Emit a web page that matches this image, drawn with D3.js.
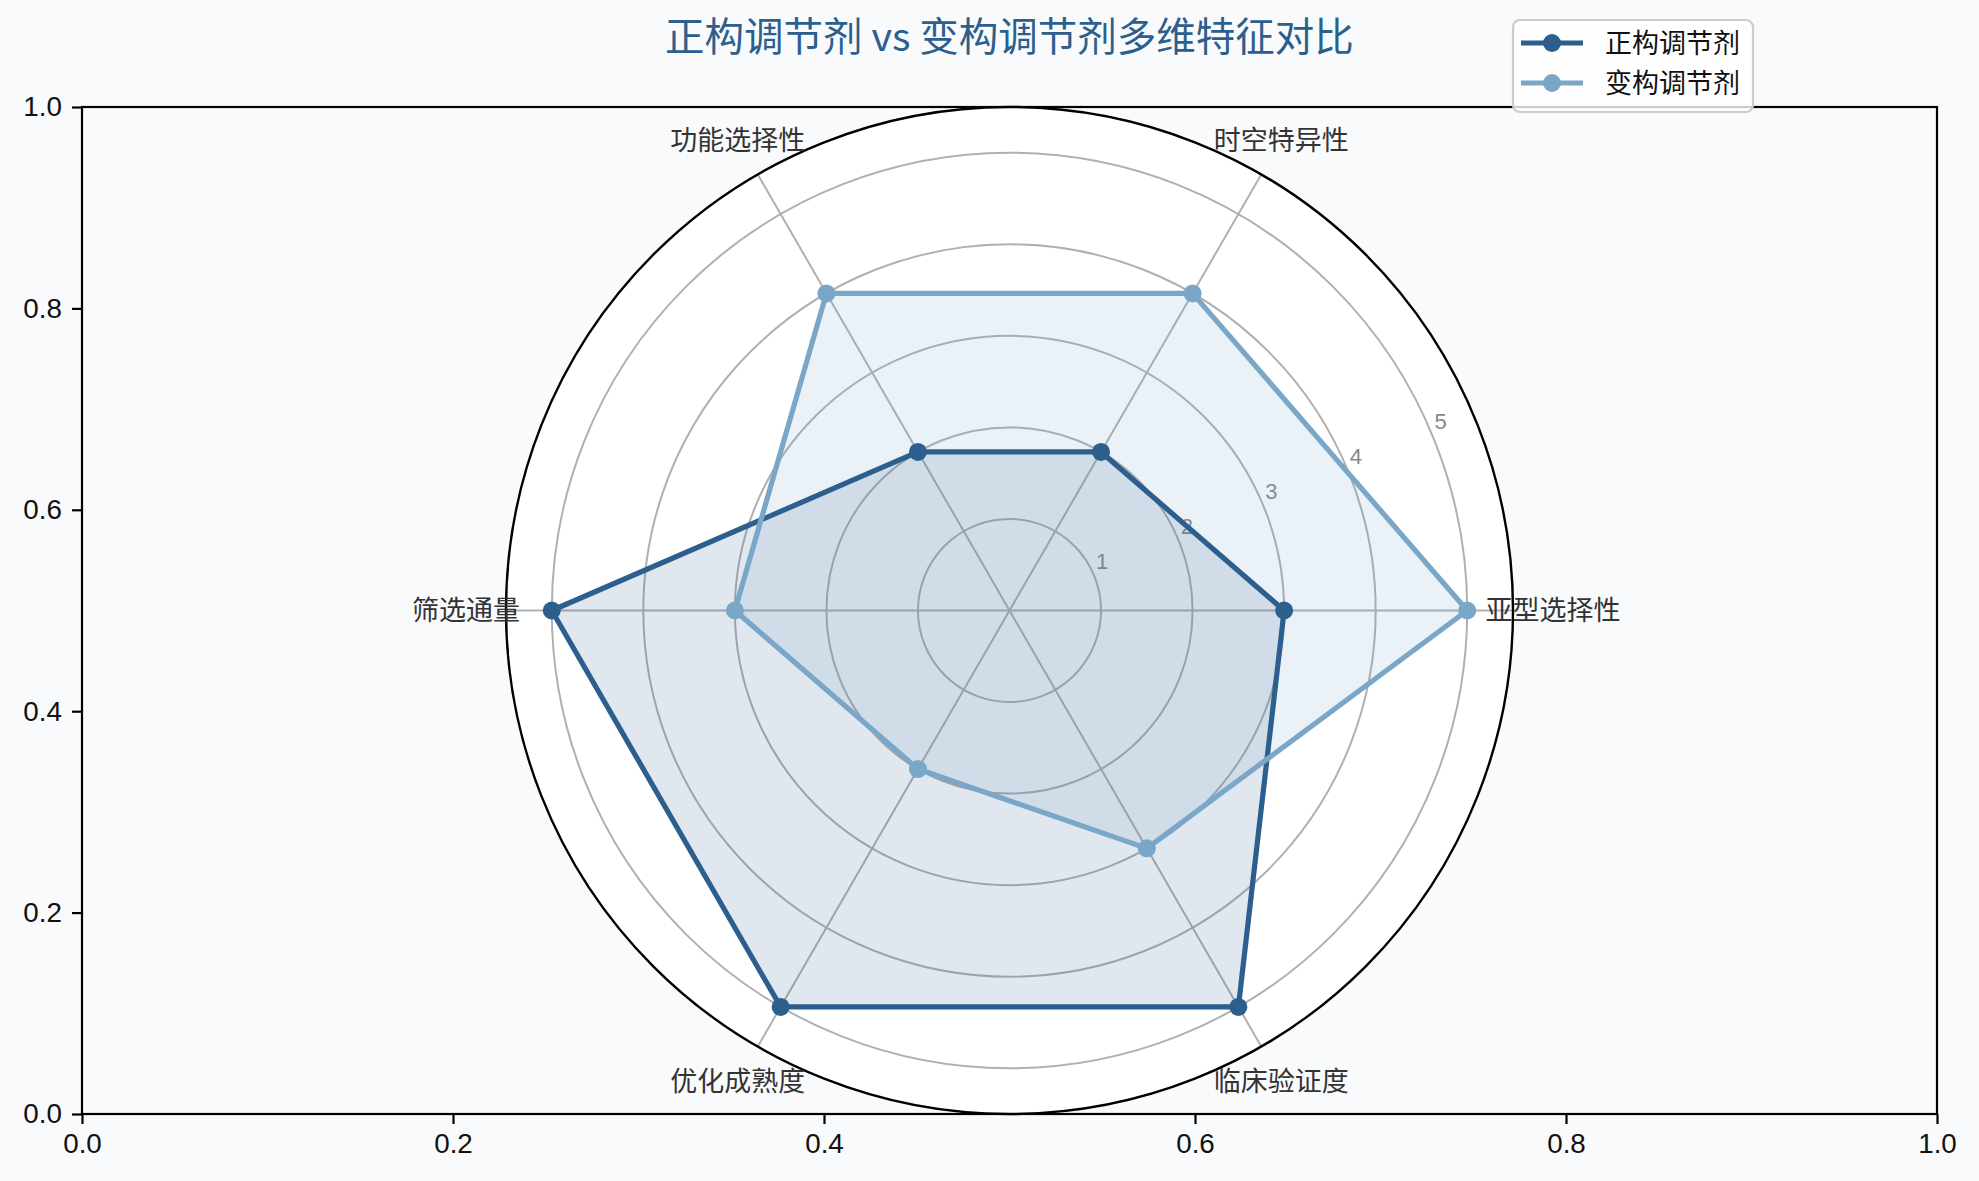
<!DOCTYPE html>
<html lang="zh">
<head>
<meta charset="UTF-8">
<title>正构调节剂 vs 变构调节剂多维特征对比</title>
<script src="https://d3js.org/d3.v7.min.js"></script>
<style>
  html, body { margin: 0; padding: 0; background: #f8fafc; }
  svg { display: block; font-family: "Liberation Sans", "Noto Sans CJK SC", sans-serif; }
  .tick text { font-size: 27.8px; fill: #111; }
  .tick line { stroke: #000; stroke-width: 2.2px; }
  .cat-label { font-family: "Noto Sans CJK SC", sans-serif; font-size: 27px; fill: #333; }
  .r-label { font-size: 22px; fill: #888; }
  .legend text { font-family: "Noto Sans CJK SC", sans-serif; font-size: 27px; fill: #111; }
</style>
</head>
<body>
<svg id="chart" width="1979" height="1181"></svg>
<script>
  // data
  const categories = ["亚型选择性", "时空特异性", "功能选择性", "筛选通量", "优化成熟度", "临床验证度"];
  const orthoValues = [3, 2, 2, 5, 5, 5];
  const alloValues = [5, 4, 4, 3, 2, 3];
  const seriesNames = ["正构调节剂", "变构调节剂"];
  const seriesColors = ["#2c5f8d", "#7aa6c8"];
  const radialTicks = [1, 2, 3, 4, 5];
  const cartTicks = [0, 0.2, 0.4, 0.6, 0.8, 1.0];

  const W = 1979, H = 1181;
  const margin = {top: 107, right: 42, bottom: 67, left: 82};
  const iw = W - margin.left - margin.right;
  const ih = H - margin.top - margin.bottom;

  const svg = d3.select("#chart");
  svg.append("rect").attr("width", W).attr("height", H).attr("fill", "#f8fafc");

  // background cartesian axes (0..1)
  const x = d3.scaleLinear().domain([0, 1]).range([0, iw]);
  const y = d3.scaleLinear().domain([0, 1]).range([ih, 0]);
  const g = svg.append("g").attr("transform", `translate(${margin.left},${margin.top})`);

  g.append("g")
    .attr("transform", `translate(0,${ih})`)
    .call(d3.axisBottom(x).tickValues(cartTicks).tickFormat(d3.format(".1f")).tickSize(10).tickPadding(9).tickSizeOuter(0))
    .call(a => a.select(".domain").remove());
  g.append("g")
    .call(d3.axisLeft(y).tickValues(cartTicks).tickFormat(d3.format(".1f")).tickSize(10).tickPadding(10).tickSizeOuter(0))
    .call(a => a.select(".domain").remove());
  g.selectAll(".tick text").attr("font-family", null);

  g.append("rect")
    .attr("width", iw).attr("height", ih)
    .attr("fill", "none").attr("stroke", "#000").attr("stroke-width", 2.2);

  // polar axes
  const R = ih / 2;
  const cx = margin.left + iw / 2, cy = margin.top + ih / 2;
  const r = d3.scaleLinear().domain([0, 5.5]).range([0, R]);
  const step = 2 * Math.PI / categories.length;
  // math angle (ccw from east) -> d3 radial angle (cw from north)
  const ang = i => Math.PI / 2 - i * step;

  const p = svg.append("g").attr("transform", `translate(${cx},${cy})`);
  p.append("circle").attr("r", R).attr("fill", "#fff");

  p.selectAll(".ring").data(radialTicks).join("circle")
    .attr("r", d => r(d))
    .attr("fill", "none").attr("stroke", "#b0b0b0").attr("stroke-width", 2);

  p.selectAll(".spoke").data(categories).join("line")
    .attr("x1", 0).attr("y1", 0)
    .attr("x2", (d, i) => R * Math.sin(ang(i)))
    .attr("y2", (d, i) => -R * Math.cos(ang(i)))
    .attr("stroke", "#b0b0b0").attr("stroke-width", 2);

  // radial labels at 22.5 deg
  const rlAng = 22.5 * Math.PI / 180;
  p.selectAll(".r-label").data(radialTicks).join("text")
    .attr("class", "r-label")
    .attr("x", d => r(d) * Math.cos(rlAng) + 2)
    .attr("y", d => -r(d) * Math.sin(rlAng) - 6)
    .text(d => d);

  const series = [orthoValues, alloValues];
  const radial = d3.lineRadial()
    .angle((d, i) => ang(i))
    .radius(d => r(d))
    .curve(d3.curveLinearClosed);

  series.forEach((vals, k) => {
    p.append("path").attr("d", radial(vals))
      .attr("fill", seriesColors[k]).attr("fill-opacity", 0.15).attr("stroke", "none");
  });
  series.forEach((vals, k) => {
    p.append("path").attr("d", radial(vals))
      .attr("fill", "none").attr("stroke", seriesColors[k])
      .attr("stroke-width", 5.2).attr("stroke-linejoin", "round");
    p.selectAll(null).data(vals).join("circle")
      .attr("cx", (d, i) => r(d) * Math.sin(ang(i)))
      .attr("cy", (d, i) => -r(d) * Math.cos(ang(i)))
      .attr("r", 9)
      .attr("fill", seriesColors[k]);
  });

  p.append("circle").attr("r", R).attr("fill", "none").attr("stroke", "#000").attr("stroke-width", 2.4);

  const labelR = R + 40;
  p.selectAll(".cat-label").data(categories).join("text")
    .attr("class", "cat-label")
    .attr("x", (d, i) => labelR * Math.sin(ang(i)))
    .attr("y", (d, i) => -labelR * Math.cos(ang(i)))
    .attr("text-anchor", "middle")
    .attr("dy", "0.36em")
    .text(d => d);

  // title
  svg.append("text")
    .attr("x", cx).attr("y", 51)
    .attr("text-anchor", "middle")
    .attr("font-family", "Noto Sans CJK SC, sans-serif")
    .attr("font-size", 39.5)
    .attr("fill", "#2c5f8d")
    .text("正构调节剂 vs 变构调节剂多维特征对比");

  // legend
  const lg = svg.append("g").attr("class", "legend").attr("transform", "translate(1513,20)");
  lg.append("rect").attr("width", 240).attr("height", 92).attr("rx", 7)
    .attr("fill", "#fff").attr("fill-opacity", 0.8)
    .attr("stroke", "#cccccc").attr("stroke-width", 2.2);
  seriesNames.forEach((name, k) => {
    const yy = 23 + k * 40;
    lg.append("line").attr("x1", 8).attr("x2", 70).attr("y1", yy).attr("y2", yy)
      .attr("stroke", seriesColors[k]).attr("stroke-width", 5.2);
    lg.append("circle").attr("cx", 39).attr("cy", yy).attr("r", 9).attr("fill", seriesColors[k]);
    lg.append("text").attr("x", 92).attr("y", yy).attr("dy", "0.36em").text(name);
  });
</script>
</body>
</html>
